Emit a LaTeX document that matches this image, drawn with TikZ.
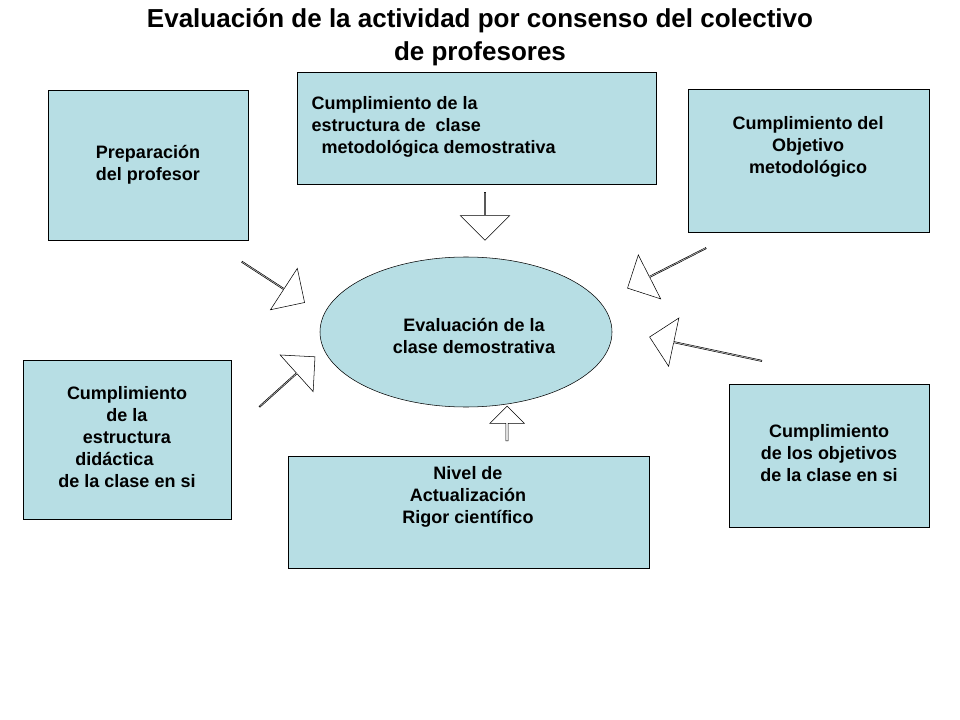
\documentclass[tikz,border=0pt]{standalone}
\usepackage{fontspec}
\setmainfont{Liberation Sans}
\usepackage{tikz}
\usetikzlibrary{shapes.arrows}
\definecolor{boxblue}{RGB}{183,222,228}
\tikzset{
  card/.style={draw, fill=boxblue, anchor=north west, align=center, font=\bfseries\fontsize{13.5}{16}\selectfont, inner sep=0pt},
  fatarrow/.style={draw, fill=white, single arrow, single arrow head extend=7.5pt, minimum width=37pt, inner sep=0pt}
}
\begin{document}
\begin{tikzpicture}[x=0.75pt,y=0.75pt,yscale=-1,xscale=1]
\useasboundingbox (0,0) rectangle (960,720);

% Title
\node (title) at (480,37) [align=center, font=\bfseries\fontsize{19.5}{25}\selectfont] {Evaluación de la actividad por consenso del colectivo\\de profesores};

% Boxes
\draw[fill=boxblue] (48,90) rectangle (248,240);
\node (prep) at (148,165) [align=center, font=\bfseries\fontsize{13.5}{16.5}\selectfont] {Preparación\\ del profesor};
\draw[fill=boxblue] (297,72) rectangle (656,184);
\node (estr) at (307,127) [anchor=west, align=left, font=\bfseries\fontsize{13.5}{16.5}\selectfont] {Cumplimiento de la\\estructura de\ \ clase\\\ \ metodológica demostrativa};
\draw[fill=boxblue] (688,89) rectangle (929,232);
\node (obj) at (808,147) [align=center, font=\bfseries\fontsize{13.5}{16.5}\selectfont] {Cumplimiento del\\Objetivo\\metodológico};
\draw[fill=boxblue] (23,360) rectangle (231,519);
\node (did) at (127,437) [align=center, font=\bfseries\fontsize{13.5}{16.5}\selectfont] {Cumplimiento\\de la\\estructura\\didáctica\ \ \ \ \ \ \ \\de la clase en si};
\draw[fill=boxblue] (288,456) rectangle (649,568);
\node (niv) at (468,497) [align=center, font=\bfseries\fontsize{13.5}{16.5}\selectfont] {Nivel de\\Actualización\\Rigor científico};
\draw[fill=boxblue] (729,384) rectangle (929,527);
\node (objc) at (829,453) [align=center, font=\bfseries\fontsize{13.5}{16.5}\selectfont] {Cumplimiento\\de los objetivos\\de la clase en si};

% Centre
\draw[fill=boxblue] (466,332) ellipse (146 and 75);
\node (eval) at (474,336) [align=center, font=\bfseries\fontsize{13.5}{16.5}\selectfont] {Evaluación de la\\clase demostrativa};

% Block arrows
\node (a1) at (485,216) [fatarrow, rotate=-90, minimum height=36pt] {};
\node (a2) at (273,282) [fatarrow, rotate=-33, minimum height=56pt] {};
\node (a3) at (287,382) [fatarrow, rotate=42, minimum height=56pt] {};
\node (a4) at (667,268) [fatarrow, rotate=207, minimum height=66pt] {};
\node (a5) at (706,349) [fatarrow, rotate=168, minimum height=86pt] {};
\node (a6) at (507,424) [fatarrow, rotate=90, minimum height=26pt, minimum width=26pt, single arrow head extend=3pt] {};
\end{tikzpicture}
\end{document}
